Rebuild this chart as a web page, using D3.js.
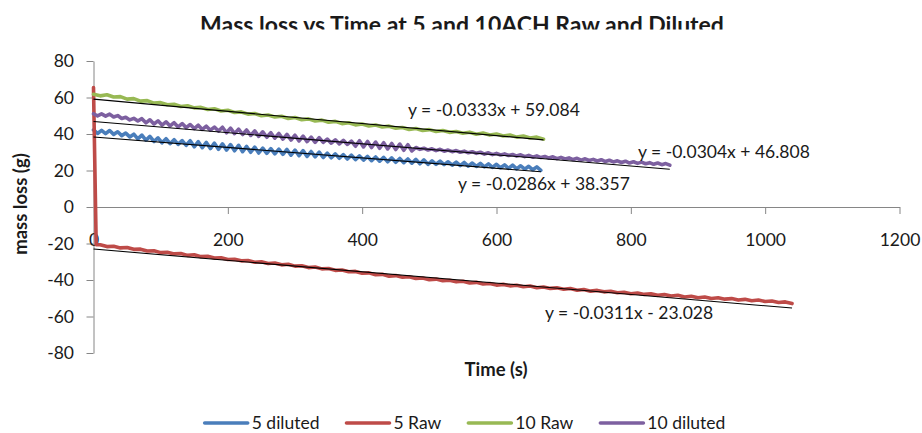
<!DOCTYPE html>
<html>
<head>
<meta charset="utf-8">
<script src="https://cdn.jsdelivr.net/npm/d3@7"></script>
<style>
  body { margin: 0; background: #fff; }
  svg { display: block; }
  text { font-family: Lato, "Open Sans", sans-serif; fill: #1a1a1a; }
</style>
</head>
<body>
<svg id="chart" width="922" height="433"></svg>
<script>
// ---- data -------------------------------------------------------------
const seriesNames = ["5 diluted", "5 Raw", "10 Raw", "10 diluted"];
const seriesColors = ["#4A7EBB", "#BE4B48", "#98B954", "#7D60A0"];

// logging interval of each run, seconds
const dilutedStep = 6;
const rawStep = 10;

// 5 ACH diluted, mass loss (g), t = 0, 6, 12, ...
const diluted5 = [
  42.2,40.3,42.0,40.2,41.9,39.8,41.2,39.1,40.5,38.4,
  39.9,37.3,39.4,36.6,38.7,35.9,37.9,35.2,37.4,34.7,
  36.9,34.3,36.4,33.8,36.3,33.0,35.8,32.5,35.4,32.0,
  35.0,31.6,34.6,31.2,34.2,30.8,33.8,30.3,33.2,30.0,
  32.8,29.6,32.3,29.4,32.0,29.1,31.7,28.8,31.5,28.4,
  31.2,28.1,30.9,27.7,30.4,27.5,30.1,27.1,29.5,27.0,
  29.1,26.7,28.7,26.3,28.4,26.0,28.0,25.7,27.7,25.4,
  27.4,25.1,27.2,24.8,26.9,24.5,26.6,24.3,26.3,24.0,
  26.1,23.7,25.8,23.4,25.3,23.4,25.1,23.2,24.8,22.9,
  24.6,22.7,24.4,22.4,24.1,22.2,23.9,22.0,23.6,21.7,
  23.4,21.5,23.1,21.2,22.9,20.9,22.6,20.7,22.3,20.4,
  22.0,20.1
];

// 5 ACH raw: first readings (t, g), then t = 10, 20, 30, ...
const raw5Start = [[0, 65.5], [4, -20.6]];
const raw5 = [
  -20.7,-21.7,-21.5,-22.4,-22.2,-23.2,-23.1,-24.1,-24.0,-25.0,
  -24.8,-25.7,-25.5,-26.5,-26.2,-27.2,-27.0,-28.0,-27.8,-28.8,
  -28.6,-29.5,-29.3,-30.3,-30.0,-31.0,-30.7,-31.7,-31.4,-32.4,
  -32.2,-33.2,-32.9,-33.9,-33.7,-34.7,-34.5,-35.5,-35.3,-36.3,
  -36.1,-37.1,-36.9,-37.9,-37.6,-38.5,-38.2,-39.2,-38.9,-39.8,
  -39.5,-40.4,-40.1,-41.0,-40.7,-41.6,-41.3,-42.2,-41.9,-42.8,
  -42.4,-43.2,-42.9,-43.7,-43.3,-44.2,-43.8,-44.6,-44.3,-45.1,
  -44.7,-45.6,-45.2,-46.1,-45.7,-46.5,-46.2,-47.0,-46.7,-47.5,
  -47.1,-47.9,-47.6,-48.4,-48.0,-48.8,-48.4,-49.3,-48.9,-49.7,
  -49.3,-50.1,-49.7,-50.5,-50.2,-51.0,-50.6,-51.4,-51.0,-51.8,
  -51.5,-52.3,-52.0,-52.9
];
const raw5FirstStepTime = 10;

// 10 ACH raw, t = 0, 10, 20, ...
const raw10 = [
  61.8,60.9,61.5,60.3,60.5,59.1,59.4,58.0,58.3,56.9,
  57.2,56.0,56.3,55.1,55.5,54.3,54.6,53.4,53.8,52.6,
  53.0,51.8,52.1,50.9,51.2,50.0,50.4,49.3,49.7,48.5,
  49.0,47.8,48.3,47.1,47.6,46.4,46.9,45.7,46.2,45.0,
  45.5,44.4,44.9,43.8,44.3,43.2,43.6,42.5,43.0,41.9,
  42.4,41.4,41.9,40.9,41.4,40.4,41.0,39.9,40.5,39.4,
  40.0,38.9,39.4,38.3,38.9,37.8,38.3,37.2
];

// 10 ACH diluted, t = 0, 6, 12, ...
const diluted10 = [
  51.1,49.9,51.0,49.8,50.9,49.3,50.1,48.5,49.2,47.7,
  48.6,47.1,48.4,46.1,47.8,45.5,47.2,44.9,46.7,44.4,
  46.2,43.9,45.7,43.5,45.2,43.0,44.8,42.5,44.3,42.1,
  43.8,41.6,43.7,40.7,43.2,40.2,42.7,39.7,42.2,39.2,
  41.7,38.7,41.2,38.2,40.7,37.7,40.3,37.2,39.8,36.7,
  39.3,36.2,38.8,35.8,38.3,35.4,38.0,35.4,37.2,35.0,
  36.8,34.6,36.5,34.3,36.1,33.3,36.3,32.9,35.9,32.6,
  35.6,32.2,35.2,31.8,34.8,31.5,34.5,31.1,34.1,30.7,
  32.6,31.6,32.2,31.2,31.9,30.9,31.6,30.6,31.2,30.3,
  30.9,30.0,30.6,29.7,30.3,29.4,30.0,29.0,29.7,28.7,
  29.4,28.5,29.1,28.2,28.8,27.9,28.6,27.6,28.3,27.3,
  28.0,27.1,27.7,26.8,27.5,26.5,27.2,26.3,26.9,26.0,
  26.7,25.7,26.4,25.5,26.1,25.2,25.9,24.9,25.6,24.7,
  25.3,24.4,25.1,24.1,24.8,23.9,24.6,23.7,24.3,23.4,
  24.1,23.2,23.8,22.9
];

// linear trendlines, same order as seriesNames
const trendSlopes = [-0.0286, -0.0311, -0.0333, -0.0304];
const trendIntercepts = [38.357, -23.028, 59.084, 46.808];
const trendLabels = [
  "y = -0.0286x + 38.357",
  "y = -0.0311x - 23.028",
  "y = -0.0333x + 59.084",
  "y = -0.0304x + 46.808"
];

const xTicks = [0, 200, 400, 600, 800, 1000, 1200];
const yTicks = [-80, -60, -40, -20, 0, 20, 40, 60, 80];

const titleText = "Mass loss vs Time at 5 and 10ACH Raw and Diluted";
const xTitle = "Time (s)";
const yTitle = "mass loss (g)";

// ---- layout -----------------------------------------------------------
const W = 922, H = 433;
const plot = { left: 93.5, right: 899.5, top: 61, bottom: 353 };
const labelFont = 17.5;
// where each trendline equation sits (left x, baseline y)
const eqPos = [[458, 190], [545, 319], [408, 116], [638, 158]];

const svg = d3.select("#chart");

const x = d3.scaleLinear().domain([0, 1200]).range([plot.left, plot.right]);
const y = d3.scaleLinear().domain([-80, 80]).range([plot.bottom, plot.top]);

// plain hyphen for negative tick labels
const tickFmt = d => String(d);

// build (t, g) point lists
const series = [
  diluted5.map((v, i) => [i * dilutedStep, v]),
  raw5Start.concat(raw5.map((v, i) => [raw5FirstStepTime + i * rawStep, v])),
  raw10.map((v, i) => [i * rawStep, v]),
  diluted10.map((v, i) => [i * dilutedStep, v])
];

// title (its lower edge is trimmed by the chart frame)
svg.append("defs").append("clipPath").attr("id", "titleClip")
  .append("rect").attr("x", 0).attr("y", 0).attr("width", W).attr("height", 29.5);
svg.append("text")
  .attr("clip-path", "url(#titleClip)")
  .attr("x", 462).attr("y", 33)
  .attr("text-anchor", "middle")
  .attr("font-size", 23).attr("font-weight", "bold")
  .text(titleText);

// axes
const axisColor = "#868686";
const yAxis = svg.append("g")
  .attr("transform", `translate(${plot.left},0)`)
  .call(d3.axisLeft(y).tickValues(yTicks).tickSize(7).tickSizeOuter(0).tickPadding(12.5)
        .tickFormat(tickFmt));
const xAxis = svg.append("g")
  .attr("transform", `translate(0,${y(0)})`)
  .call(d3.axisBottom(x).tickValues(xTicks).tickSize(7).tickSizeOuter(0).tickPadding(20)
        .tickFormat(tickFmt));
[yAxis, xAxis].forEach(g => {
  g.select(".domain").attr("stroke", axisColor);
  g.selectAll(".tick line").attr("stroke", axisColor);
  g.selectAll(".tick text").attr("font-size", labelFont)
    .attr("font-family", "Lato, 'Open Sans', sans-serif").attr("fill", "#1a1a1a");
});
xAxis.selectAll(".tick").filter(d => d === 0).select("line").remove();

// axis titles
svg.append("text")
  .attr("x", 496).attr("y", 376)
  .attr("text-anchor", "middle")
  .attr("font-size", 18.5).attr("font-weight", "bold")
  .text(xTitle);
svg.append("text")
  .attr("transform", "translate(27,204) rotate(-90)")
  .attr("text-anchor", "middle")
  .attr("font-size", 18.5).attr("font-weight", "bold")
  .text(yTitle);

// data lines
const line = d3.line().x(d => x(d[0])).y(d => y(d[1]));
svg.append("g").selectAll("path").data(series).join("path")
  .attr("d", line)
  .attr("fill", "none")
  .attr("stroke", (d, i) => seriesColors[i])
  .attr("stroke-width", 3.6)
  .attr("stroke-linejoin", "round")
  .attr("stroke-linecap", "round");

// trendlines over each run's time span
svg.append("g").selectAll("line").data(series).join("line")
  .attr("x1", x(0))
  .attr("y1", (d, i) => y(trendIntercepts[i]))
  .attr("x2", d => x(d[d.length - 1][0]))
  .attr("y2", (d, i) => y(trendIntercepts[i] + trendSlopes[i] * d[d.length - 1][0]))
  .attr("stroke", "#000")
  .attr("stroke-width", 1.1);

// trendline equations
svg.append("g").selectAll("text").data(trendLabels).join("text")
  .attr("x", (d, i) => eqPos[i][0])
  .attr("y", (d, i) => eqPos[i][1])
  .attr("font-size", labelFont)
  .text(d => d);

// legend
const legend = svg.append("g");
const items = legend.selectAll("g").data(seriesNames).join("g");
items.append("line")
  .attr("x1", 0).attr("x2", 43).attr("y1", 0).attr("y2", 0)
  .attr("stroke", (d, i) => seriesColors[i])
  .attr("stroke-width", 3.6).attr("stroke-linecap", "round");
items.append("text")
  .attr("x", 47).attr("dy", "0.35em")
  .attr("font-size", labelFont)
  .text(d => d);
const widths = [];
items.each(function () {
  widths.push(47 + this.querySelector("text").getComputedTextLength());
});
const gap = 27;
const total = d3.sum(widths) + gap * (widths.length - 1);
let start = 465 - total / 2;
items.attr("transform", (d, i) => {
  const tx = start;
  start += widths[i] + gap;
  return `translate(${tx},423)`;
});
</script>
</body>
</html>
